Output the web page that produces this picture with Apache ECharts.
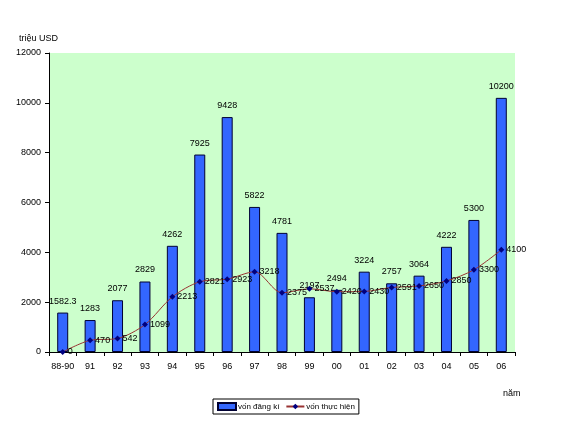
<!DOCTYPE html>
<html><head><meta charset="utf-8">
<script src="https://cdn.jsdelivr.net/npm/echarts@6/dist/echarts.min.js"></script>
<style>html,body{margin:0;padding:0;background:#fff}#c{width:561px;height:422px}</style>
</head><body><div id="c"></div>
<script>
const categories = ['88-90','91','92','93','94','95','96','97','98','99','00','01','02','03','04','05','06'];
const registered = [1582.3,1283,2077,2829,4262,7925,9428,5822,4781,2197,2494,3224,2757,3064,4222,5300,10200];
const realized = [0,470,542,1099,2213,2821,2923,3218,2375,2537,2420,2430,2591,2650,2850,3300,4100];
const yTicks = [0,2000,4000,6000,8000,10000,12000];

const chart = echarts.init(document.getElementById('c'), null, {renderer:'canvas'});
const font = 'Arial, "Liberation Sans", sans-serif';
chart.setOption({
  animation:false,
  textStyle:{fontFamily:font},
  grid:{left:49,right:46,top:53,bottom:70,show:true,backgroundColor:'#ccffcc',borderWidth:0},
  title:[
    {text:'triệu USD',left:14,top:29,textStyle:{fontSize:9,fontWeight:'normal',color:'#000',fontFamily:font}},
    {text:'năm',left:498,top:384,textStyle:{fontSize:9,fontWeight:'normal',color:'#000',fontFamily:font}}
  ],
  legend:{
    bottom:8,left:213,itemGap:6,itemWidth:18,itemHeight:7,
    borderColor:'#000',borderWidth:1,padding:[3,4],borderRadius:0,
    textStyle:{fontSize:8,color:'#000',fontFamily:font,padding:[0,0,0,-3]},
    data:[{name:'vốn đăng kí',icon:'rect'},{name:'vốn thực hiện'}]
  },
  xAxis:{
    type:'category',data:categories,
    axisLine:{lineStyle:{color:'#000',width:1}},
    axisTick:{show:true,alignWithLabel:false,length:4,lineStyle:{color:'#000'}},
    axisLabel:{fontSize:9,color:'#000',margin:10,interval:0}
  },
  yAxis:{
    type:'value',min:0,max:12000,interval:2000,
    axisLine:{show:true,lineStyle:{color:'#000',width:1}},
    axisTick:{show:true,length:4,lineStyle:{color:'#000'}},
    splitLine:{show:false},
    axisLabel:{fontSize:9,color:'#000',margin:8,formatter:v=>yTicks.includes(v)?String(v):''}
  },
  series:[
    {name:'vốn đăng kí',type:'bar',data:registered,barWidth:11,
     itemStyle:{color:'#3366ff',borderColor:'#000033',borderWidth:1},
     label:{show:true,position:'top',fontSize:9,color:'#000',distance:7,fontFamily:font}},
    {name:'vốn thực hiện',type:'line',data:realized,smooth:0.3,
     symbol:'diamond',symbolSize:6,
     lineStyle:{color:'#993333',width:1},
     itemStyle:{color:'#000080'},
     label:{show:true,position:'right',fontSize:9,color:'#000',distance:2,fontFamily:font}}
  ]
});
</script></body></html>
